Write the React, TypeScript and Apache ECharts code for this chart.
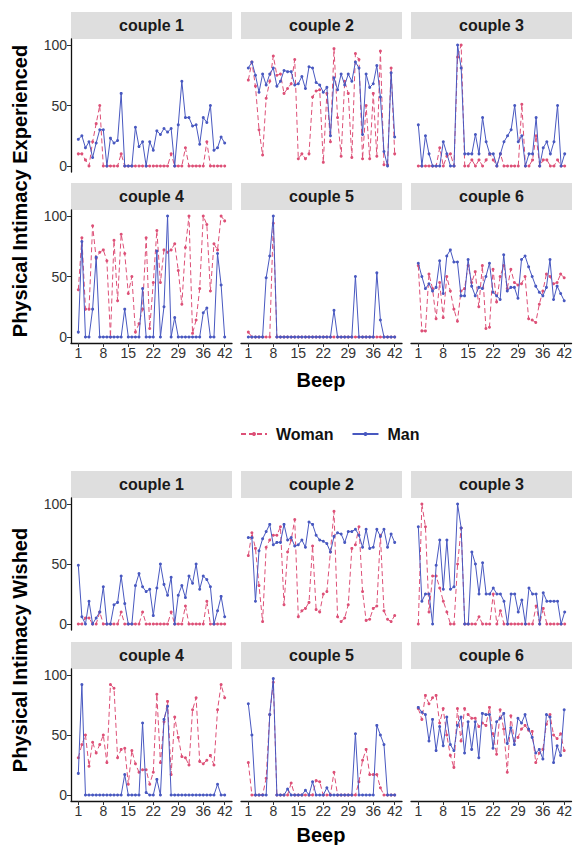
import React, { useEffect, useRef } from "react";
import * as echarts from "echarts";

const beeps = Array.from({ length: 42 }, (_, i) => i + 1);
const couples = ["couple 1", "couple 2", "couple 3", "couple 4", "couple 5", "couple 6"];
const xTicks = [1, 8, 15, 22, 29, 36, 42];
const yTicks = [0, 50, 100];
const seriesNames = ["Woman", "Man"];
const blockTitles = ["Physical Intimacy Experienced", "Physical Intimacy Wished"];
const xTitle = "Beep";

// Physical intimacy experienced
const expWoman1 = [10,10,5,0,20,35,50,0,0,0, 0,0,10,0,0,0,0,0,0,0, 0,0,0,0,0,0,10,0,0,0, 15,0,0,0,0,0,20,0,0,0, 0,0];
const expMan1 = [22,25,15,20,7,19,30,30,0,23, 19,21,60,0,0,0,32,16,20,0, 20,13,29,26,31,28,31,0,34,70, 40,40,33,34,18,40,36,50,13,15, 24,19];
const expWoman2 = [71,86,66,30,9,56,70,91,75,76, 60,64,68,88,6,10,6,10,57,62, 63,3,60,20,97,40,8,70,60,7, 93,88,6,50,6,60,8,95,1,1, 81,10];
const expMan2 = [81,86,75,61,76,67,76,81,66,70, 79,78,78,67,68,74,64,82,81,69, 67,61,65,25,73,63,76,67,76,70, 86,81,26,76,65,68,83,57,12,0, 77,24];
const expWoman3 = [0,0,0,0,0,0,15,0,8,10, 0,90,100,0,0,5,0,5,0,5, 10,5,0,10,0,0,0,0,0,51, 0,0,5,25,0,5,5,0,0,5, 0,0];
const expMan3 = [34,0,25,10,0,0,0,20,10,0, 0,100,81,10,10,10,26,10,40,20, 10,10,0,10,20,25,30,50,20,25, 0,10,10,40,0,15,20,10,20,50, 0,10];
const expWoman4 = [39,82,23,23,92,65,70,72,63,0, 80,30,85,69,36,50,4,11,23,82, 7,45,88,45,72,70,72,77,55,27, 74,100,3,14,40,100,93,38,77,72, 100,96];
const expMan4 = [4,79,0,0,23,66,0,0,0,0, 0,0,0,23,0,0,0,0,40,0, 0,0,71,0,25,100,0,16,0,0, 0,0,0,0,0,20,24,0,0,69, 43,0];
const expWoman5 = [4,0,0,0,0,0,0,94,0,0, 0,0,0,0,0,0,0,0,0,0, 0,0,0,0,0,0,0,0,0,0, 0,0,0,0,0,0,0,0,0,0, 0,0];
const expMan5 = [0,0,0,0,0,49,67,100,0,0, 0,0,0,0,0,0,0,0,0,0, 0,0,0,0,22,0,0,0,0,0, 50,0,0,0,0,0,53,14,0,0, 0,0];
const expWoman6 = [59,5,5,52,40,15,45,16,50,38, 23,13,38,40,59,45,54,25,59,7, 8,56,29,50,59,40,56,45,43,44, 50,15,14,12,27,38,52,50,44,45, 52,49];
const expMan6 = [61,50,40,44,38,41,63,36,67,72, 62,62,34,34,64,42,34,41,40,50, 61,37,34,31,68,38,41,41,32,64, 67,58,50,42,37,34,41,64,31,42, 36,30];

// Physical intimacy wished
const wishWoman1 = [0,0,5,5,0,0,10,0,0,0, 0,0,10,0,0,0,0,0,10,0, 0,0,0,0,0,0,10,0,0,0, 15,0,0,0,0,0,19,0,0,0, 0,0];
const wishMan1 = [49,6,0,19,0,5,10,31,0,0, 16,18,40,17,0,0,32,42,31,27, 29,7,30,50,33,24,39,0,24,32, 22,40,34,50,29,40,37,31,0,11, 23,6];
const wishWoman2 = [57,76,63,32,2,64,70,74,74,81, 16,60,70,87,6,11,13,18,65,12, 10,25,27,60,94,6,2,5,16,63, 66,81,27,3,4,13,15,74,11,4, 2,7];
const wishMan2 = [72,72,19,61,71,77,83,66,68,68, 83,70,72,65,66,70,64,85,83,74, 70,69,67,60,73,76,75,68,77,77, 79,74,64,79,63,64,79,73,79,64, 75,68];
const wishWoman3 = [0,100,81,10,40,40,30,19,10,0, 0,50,80,0,0,0,0,6,0,0, 0,25,0,11,0,0,0,0,0,0, 0,0,0,15,0,13,0,0,0,0, 0,0];
const wishMan3 = [81,19,25,25,0,49,70,29,70,29, 31,100,80,0,0,60,50,25,51,25, 25,30,25,25,19,0,25,25,10,20, 0,30,25,25,0,26,19,19,19,19, 0,10];
const wishWoman4 = [31,42,50,24,44,35,42,50,27,92, 89,31,38,39,9,37,26,19,21,21, 9,19,84,27,61,78,17,65,48,32, 31,25,71,81,28,26,29,33,25,71, 92,81];
const wishMan4 = [18,92,0,0,0,0,0,0,0,0, 0,0,0,17,0,0,0,0,60,2, 0,0,13,0,63,74,0,0,0,0, 0,0,0,0,0,0,0,0,0,9, 0,0];
const wishWoman5 = [27,0,0,0,0,14,67,94,0,0, 0,0,10,0,0,0,0,0,0,12, 11,0,0,0,19,0,0,0,0,0, 0,11,29,38,17,17,17,6,0,0, 0,0];
const wishMan5 = [76,50,0,0,0,0,67,97,0,0, 0,5,0,0,0,0,4,0,11,0, 0,0,6,0,0,0,0,0,0,0, 51,0,0,0,0,0,58,50,42,0, 0,0];
const wishWoman6 = [72,63,83,76,81,83,60,72,50,33, 23,72,45,72,67,64,64,57,60,58, 73,51,34,71,55,19,66,45,48,55, 58,54,53,27,35,38,59,67,50,47, 51,37];
const wishMan6 = [73,69,67,45,63,37,57,41,65,42, 37,58,65,35,61,38,61,31,68,67, 67,39,61,64,68,43,56,42,64,60, 67,55,48,35,38,30,67,65,27,41, 33,71];

const blocks = [
  { woman: [expWoman1, expWoman2, expWoman3, expWoman4, expWoman5, expWoman6], man: [expMan1, expMan2, expMan3, expMan4, expMan5, expMan6] },
  { woman: [wishWoman1, wishWoman2, wishWoman3, wishWoman4, wishWoman5, wishWoman6], man: [wishMan1, wishMan2, wishMan3, wishMan4, wishMan5, wishMan6] },
];

const FONT = "'Liberation Sans', Arial, sans-serif";
const WOMAN = "#DD5077";
const MAN = "#4858C0";
const colLeft = [71, 241, 411];
const panelW = 161;
const stripH = 27;
const rowGeom = [
  [{ top: 39, h: 133 }, { top: 210, h: 133 }],
  [{ top: 498, h: 132 }, { top: 669, h: 132 }],
];
const titleY = [191, 650];
const beepY = [380, 835];

function buildOption() {
  const grid: any[] = [];
  const xAxis: any[] = [];
  const yAxis: any[] = [];
  const series: any[] = [];
  const graphic: any[] = [];
  let g = 0;
  blocks.forEach((blk, b) => {
    for (let r = 0; r < 2; r++) {
      for (let c = 0; c < 3; c++) {
        const idx = r * 3 + c;
        const geo = rowGeom[b][r];
        grid.push({ left: colLeft[c], top: geo.top, width: panelW, height: geo.h, containLabel: false });
        const bottomRow = r === 1;
        const leftCol = c === 0;
        xAxis.push({
          gridIndex: g, type: "value", min: -1.05, max: 44.05,
          splitLine: { show: false },
          axisLine: { show: bottomRow, onZero: false, lineStyle: { color: "#111", width: 1.3 } },
          axisTick: { show: bottomRow, customValues: xTicks, length: 4, lineStyle: { color: "#333", width: 1 } },
          axisLabel: { show: bottomRow, customValues: xTicks, fontSize: 14, color: "#333", margin: 3, fontFamily: FONT },
        });
        yAxis.push({
          gridIndex: g, type: "value", min: -5, max: 105,
          splitLine: { show: false },
          axisLine: { show: leftCol, onZero: false, lineStyle: { color: "#111", width: 1.3 } },
          axisTick: { show: leftCol, customValues: yTicks, length: 4, lineStyle: { color: "#333", width: 1 } },
          axisLabel: { show: leftCol, customValues: yTicks, fontSize: 14, color: "#333", margin: 4, fontFamily: FONT },
        });
        series.push({
          name: seriesNames[0], type: "line", xAxisIndex: g, yAxisIndex: g,
          data: beeps.map((x, i) => [x, blk.woman[idx][i]]),
          symbol: "circle", symbolSize: 3, showSymbol: true,
          lineStyle: { color: WOMAN, width: 1, type: [5, 3] },
          itemStyle: { color: WOMAN },
          z: 2,
        });
        series.push({
          name: seriesNames[1], type: "line", xAxisIndex: g, yAxisIndex: g,
          data: beeps.map((x, i) => [x, blk.man[idx][i]]),
          symbol: "circle", symbolSize: 3, showSymbol: true,
          lineStyle: { color: MAN, width: 1 },
          itemStyle: { color: MAN },
          z: 3,
        });
        graphic.push({
          type: "rect",
          shape: { x: colLeft[c], y: geo.top - stripH, width: panelW, height: stripH },
          style: { fill: "#DEDEDE" },
          silent: true,
        });
        graphic.push({
          type: "text",
          x: colLeft[c] + panelW / 2, y: geo.top - stripH / 2,
          style: { text: couples[idx], font: `bold 16px ${FONT}`, fill: "#1A1A1A", textAlign: "center", textVerticalAlign: "middle" },
          silent: true,
        });
        g++;
      }
    }
    graphic.push({
      type: "text", x: 20, y: titleY[b], rotation: Math.PI / 2,
      style: { text: blockTitles[b], font: `bold 20px ${FONT}`, fill: "#000", textAlign: "center", textVerticalAlign: "middle" },
      silent: true,
    });
    graphic.push({
      type: "text", x: 321, y: beepY[b],
      style: { text: xTitle, font: `bold 20px ${FONT}`, fill: "#000", textAlign: "center", textVerticalAlign: "middle" },
      silent: true,
    });
  });
  return {
    animation: false,
    backgroundColor: "#FFFFFF",
    textStyle: { fontFamily: FONT },
    grid, xAxis, yAxis, series, graphic,
    legend: {
      data: seriesNames, top: 421, left: 235, itemWidth: 26, itemHeight: 5, itemGap: 18,
      textStyle: { fontSize: 16, fontWeight: "bold", color: "#111", fontFamily: FONT, padding: [0, 0, 0, 4] },
    },
  };
}

export default function App() {
  const ref = useRef<HTMLDivElement>(null);
  useEffect(() => {
    if (!ref.current) return;
    const chart = echarts.init(ref.current, undefined, { renderer: "svg" });
    chart.setOption(buildOption() as any);
    return () => chart.dispose();
  }, []);
  return <div ref={ref} style={{ position: "absolute", left: 0, top: 0, width: 575, height: 845 }} />;
}
